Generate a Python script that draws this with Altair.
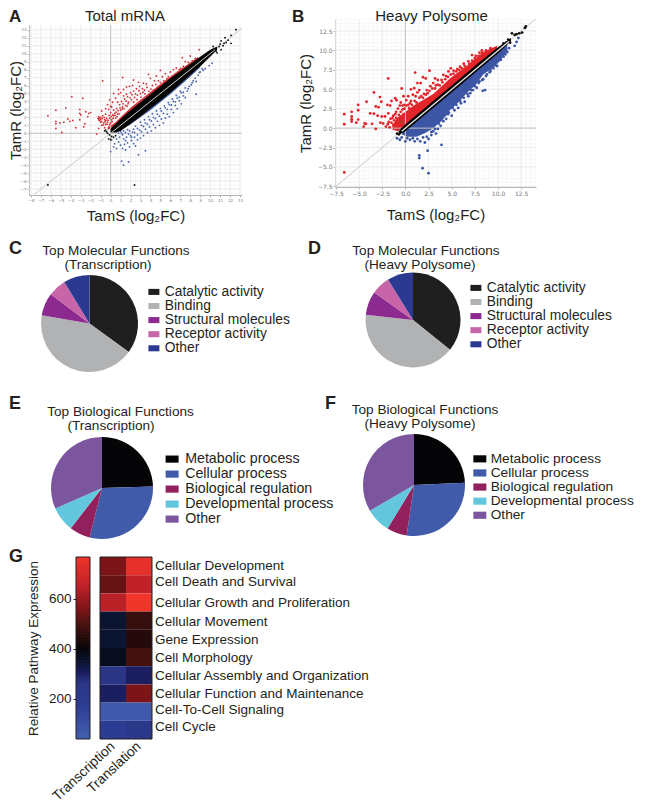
import altair as alt
import pandas as pd

# ---------- scatter A (Total mRNA) ----------
a_red = [(-6.3,2.2),(-5.5,2.9),(-4.5,3.2),(-3.9,4.6),(-2.8,4.4),(-5.5,1.5),(-5.5,1.2),(-5.5,0.6),(-5.1,1.3),(-4.7,1.4),
 (-4.3,1.8),(-4.1,1.5),(-4.9,0.1),(-3.5,0.7),(-3.8,1.6),(-3.1,3.0),(-3.1,2.5),(-3.0,2.3),(-3.1,1.7),(-2.6,1.2),
 (-2.7,0.8),(-2.5,2.7),(-2.2,2.5),(-2.0,2.6),(-2.3,2.1),(-1.4,-0.1),(-1.2,0.6),(-0.8,6.6),(-1.2,2.1),(-1.1,1.9),
 (-1.0,2.0),(-1.1,1.6),(-0.9,1.5),(-0.8,2.2),(-0.9,1.0),(-0.7,1.3),(-0.6,1.7),(-0.5,2.4),(-0.4,1.9),(-0.3,1.4),
 (-0.5,1.1),(-0.2,0.8),(-0.1,1.9),(0.0,1.3),(0.0,2.6),(0.1,3.3),(-0.2,3.0),(-0.3,3.6),(0.2,2.3),(0.3,2.9),
 (0.1,1.7),(0.5,1.9),(0.8,4.9),(1.0,5.1),(1.3,5.5),(1.6,4.9),(0.8,5.5),(0.3,5.0),(-0.1,4.2),(1.6,5.8),
 (1.9,5.9),(1.2,7.0),(2.3,6.7),(3.3,6.3),(3.8,7.4),(4.0,6.9),(4.6,7.2),(5.0,7.9),(6.3,8.0),(6.6,8.2),
 (7.2,9.5),(7.5,9.0),(8.0,9.7),(8.9,10.5),(0.4,2.5),(0.6,3.1),(0.7,2.4),(0.9,3.6),(1.0,2.9),(1.1,4.0),
 (1.2,3.3),(1.4,4.3),(1.5,3.5),(1.7,4.6),(1.8,3.9),(2.0,5.1),(2.1,4.2),(2.3,5.3),(2.4,4.5),(2.6,5.6),
 (2.7,4.8),(2.9,5.9),(3.0,5.0),(3.2,5.6),(3.4,5.4),(3.6,6.2),(4.2,6.0),(4.4,6.6),(4.8,6.6),(5.2,7.1),
 (5.5,7.5),(5.8,7.1),(6.0,7.7),(6.5,7.5),(6.9,8.0),(7.3,8.4),(7.8,8.9),(8.2,9.1),(8.5,9.4),(0.2,3.9),
 (0.5,4.4),(0.7,3.9),(1.3,4.7),(0.0,3.4),(-0.5,3.1),(-0.9,2.8),(-0.6,0.7),(2.2,6.0),(2.8,6.4),
 (-1.25,1.9),(-1.2,1.7),(-1.0,1.4),(-1.0,1.75),(-0.85,1.85),(-0.75,1.05),(-0.65,2.0),(-0.55,1.45),(-0.45,1.65),(-0.35,1.15),
 (-0.25,1.65),(-0.15,2.25),(-0.1,1.1),(0.05,2.1),(0.15,1.45),(0.25,1.9),(0.3,2.2),(0.45,2.25),(0.55,2.65),(0.65,2.1),
 (0.75,2.85),(0.85,2.45),(0.95,3.2),(1.15,3.05),(1.25,3.7),(1.35,3.1),(1.55,4.05),(1.65,3.4),(1.75,3.7),(1.95,4.45),
 (2.15,4.85),(2.3,3.9),(2.5,4.95),(2.65,4.25),(2.85,5.35),(3.05,4.55),(3.25,5.15),(3.45,4.95),(3.65,5.75),(3.85,5.3),
 (4.05,5.55),(4.3,5.4),(4.55,6.15),(4.75,5.85),(5.0,6.4),(5.35,6.6),(5.65,6.85),(6.2,7.2),(6.75,7.7),(7.05,8.15)]
a_blue = [(0.3,-1.7),(0.0,-2.3),(1.1,-3.5),(1.3,-4.0),(1.8,-3.6),(2.8,-2.7),(3.5,-2.2),(5.3,1.3),(7.5,4.5),(8.6,4.9),
 (10.2,8.8),(0.4,-1.3),(0.6,-1.9),(0.8,-1.1),(1.0,-1.5),(1.2,-1.9),(1.4,-1.4),(1.5,-2.1),(1.7,-1.2),(1.9,-1.7),
 (2.1,-0.9),(2.3,-1.3),(2.5,-1.6),(2.7,-0.8),(0.6,-0.7),(0.9,-0.5),(1.3,-0.7),(1.6,-0.5),(2.0,-0.3),(2.4,-0.5),
 (2.7,-0.2),(3.0,-0.6),(3.1,0.2),(3.3,-0.3),(3.5,0.5),(3.7,0.1),(3.9,0.8),(4.1,0.3),(4.3,1.1),(4.5,0.7),
 (4.7,1.5),(4.9,1.0),(5.1,1.8),(5.5,1.9),(5.7,2.4),(5.9,2.1),(6.1,3.0),(6.3,2.6),(6.5,3.5),(6.7,3.1),
 (6.9,4.1),(7.1,3.7),(7.3,4.7),(7.7,5.3),(7.9,5.9),(8.1,6.1),(8.3,6.6),(8.5,6.9),(8.8,7.3),(9.0,7.7),
 (9.3,7.9),(9.5,8.1),(9.9,8.5),(1.1,0.0),(1.5,0.1),(1.9,0.3),(2.3,0.5),(2.7,0.6),(3.1,1.0),(3.5,1.3),
 (3.9,1.7),(4.3,2.0),(4.7,2.4),(5.1,2.8),(5.5,3.2),(5.9,3.6),(6.3,4.0),(6.7,4.4),(7.1,5.1),(0.1,-0.8),
 (0.8,0.0),(1.0,0.25),(1.3,0.3),(1.7,0.45),(1.2,-0.2),(1.8,-0.1),(2.2,0.15),(2.5,0.9),(2.9,0.4),(3.0,1.4),
 (3.3,0.85),(3.4,1.7),(3.7,1.15),(3.8,2.1),(4.1,1.55),(4.2,2.45),(4.5,1.85),(4.6,2.8),(4.9,2.15),(5.0,3.1),
 (5.3,2.5),(5.4,3.45),(5.7,3.0),(5.8,3.85),(6.1,3.55),(6.2,4.3),(6.5,3.95),(6.6,4.75),(6.9,4.55),(7.0,5.3),
 (7.3,5.15),(7.5,5.7),(7.8,5.6),(8.2,6.35),(8.6,6.5),(8.9,7.65),(9.2,8.1),(2.4,0.1),(2.1,-0.5),(1.5,-0.9)]
a_black = [(12.6,13.0),(12.1,12.3),(12.1,11.3),(11.1,10.5),(11.5,12.0),(11.0,11.2),(10.5,10.6),(11.8,11.7),(10.7,10.1),
 (11.3,11.0),(11.6,11.4),(11.1,11.6),(-0.5,0.4),(-0.3,0.0),(-0.1,-0.2),(0.1,-0.4),(0.3,-0.5),(-0.2,-0.7),(0.0,-0.8),
 (0.5,-0.3),(-0.4,0.2),(-0.6,0.3),(-6.3,-6.5),(2.4,-6.5),(10.3,10.9),(10.9,10.9),(11.4,11.3),(10.6,10.3)]
a_band_x   = [0.0, 0.5, 1.0, 2.0, 3.0, 4.0, 5.0, 6.0, 7.0, 8.0, 9.0, 10.0, 10.7]
a_band_hi  = [0.6, 1.2, 1.8, 2.9, 3.9, 4.9, 5.9, 6.9, 7.8, 8.7, 9.6, 10.5, 10.9]
a_band_lo  = [0.1, 0.1, 0.3, 1.2, 2.1, 3.1, 4.1, 5.1, 6.2, 7.3, 8.4, 9.6, 10.5]
a_red_x    = [-0.3, 0.5, 1.0, 2.0, 3.0, 4.0, 5.0, 6.0, 7.0, 8.0, 8.8]
a_red_hi   = [0.7, 1.4, 2.0, 3.2, 4.2, 5.2, 6.2, 7.1, 8.0, 8.9, 9.6]
a_red_lo   = [0.4, 1.0, 1.6, 2.7, 3.7, 4.7, 5.7, 6.7, 7.6, 8.5, 9.3]
a_blue_x   = [0.5, 1.0, 2.0, 3.0, 4.0, 5.0, 6.0, 7.0, 8.0, 9.0]
a_blue_hi  = [0.1, 0.5, 1.4, 2.3, 3.2, 4.2, 5.2, 6.3, 7.4, 8.5]
a_blue_lo  = [0.0, 0.4, 1.1, 2.0, 2.9, 3.9, 4.9, 6.0, 7.1, 8.3]

# ---------- scatter B (Heavy Polysome) ----------
b_red = [(-6.6,1.8),(-6.6,0.5),(-5.8,2.1),(-5.8,1.5),(-5.8,1.15),(-5.8,0.85),(-5.1,3.0),(-5.1,2.3),(-5.1,1.1),(-5.3,0.7),
 (-4.5,0.2),(-4.2,3.4),(-4.4,0.6),(-4.25,0.55),(-3.8,1.9),(-3.4,4.6),(-3.4,1.85),(-3.6,0.55),(-3.2,2.8),(-2.9,2.7),
 (-2.75,4.0),(-2.6,3.4),(-3.0,1.6),(-2.55,1.5),(-3.2,-0.1),(-2.7,0.7),(-1.95,3.0),(-1.85,6.4),(-1.65,2.9),(-1.1,3.85),
 (-1.5,3.5),(-0.95,3.6),(-0.4,5.1),(-0.2,4.1),(-1.85,1.9),(-2.2,1.5),(1.05,7.15),(2.6,7.4),(1.9,6.55),(2.2,6.4),
 (1.3,5.8),(1.65,5.8),(0.95,5.15),(0.6,5.0),(1.5,4.9),(2.3,4.9),(2.0,4.4),(4.1,6.85),(3.9,6.2),(4.9,7.7),
 (4.65,7.3),(5.9,7.9),(7.2,9.4),(7.6,9.3),(8.25,10.0),(9.2,10.3),(-6.6,-5.7),(-2.1,0.2),(-1.9,0.5),(-1.7,0.1),
 (-1.5,0.7),(-1.6,1.2),(-1.3,0.4),(-1.2,1.0),(-1.3,1.6),(-1.0,0.6),(-1.0,1.3),(-1.0,2.1),(-0.8,2.5),(-0.7,1.7),
 (-0.6,2.9),(-0.5,3.3),(-0.3,2.4),(-0.1,3.0),(0.1,3.6),(0.3,3.0),(0.3,4.1),(0.6,3.5),(0.8,4.3),(1.1,4.1),
 (1.3,4.6),(2.7,5.4),(3.0,5.8),(3.3,5.5),(3.5,6.2),(4.4,6.7),(5.2,7.4),(5.6,7.6),(6.3,8.3),(6.8,8.6),
 (8.0,9.7),(3.2,6.4),(-2.4,0.6),(-0.2,1.8),
 (-1.8,0.8),(-1.4,1.3),(-1.1,1.8),(-0.9,0.9),(-0.7,1.2),(-0.5,2.1),(-0.4,1.5),(-0.3,2.9),(-0.1,2.5),(0.1,2.9),
 (0.4,2.6),(0.5,3.2),(0.7,3.0),(1.0,3.5),(1.2,3.3),(1.5,3.9),(1.7,4.1),(1.9,3.9),(2.2,4.3),(2.4,4.5),
 (2.6,4.8),(2.9,5.1),(3.2,5.1),(3.5,5.6),(3.7,5.5),(4.0,5.9),(4.3,6.3),(4.6,6.6),(4.9,6.9),(5.2,7.0),
 (5.5,7.3),(5.8,7.5),(6.1,7.7),(6.4,8.0),(6.9,8.3),(7.2,8.7),(7.5,9.0),(7.9,9.3),(8.3,9.7),(8.7,10.0)]
b_blue = [(3.9,-2.15),(2.4,-2.9),(1.5,-3.5),(1.5,-3.85),(1.85,-5.15),(2.5,-5.8),(-0.9,-1.3),(-0.6,-1.5),(0.0,-1.7),(0.5,-1.5),
 (1.0,-1.7),(1.6,-1.7),(2.1,-1.85),(2.5,-1.4),(3.0,-0.4),(8.6,4.9),(8.35,4.8),(7.5,5.8),(12.0,11.1),(12.2,11.6),
 (11.2,10.3),(10.2,8.9),(-0.4,-1.2),(0.2,-1.3),(0.8,-1.3),(1.3,-1.4),(1.9,-1.2),(2.3,-1.1),(2.8,-0.9),(3.3,-0.7),
 (3.5,-0.1),(3.8,0.3),(4.1,0.9),(4.4,1.2),(4.6,1.8),(5.0,1.6),(5.3,2.3),(5.7,2.6),(6.0,3.2),(6.4,3.4),
 (6.8,4.1),(7.0,4.5),(7.3,4.9),(7.7,5.2),(8.0,6.0),(8.4,6.3),(8.8,6.9),(9.1,7.2),(9.5,7.7),(9.9,8.0),
 (10.6,9.2),(11.0,9.8),(11.8,10.6),
 (2.8,-0.5),(3.2,-0.1),(3.6,0.6),(3.9,1.2),(4.3,1.7),(4.7,2.0),(5.1,2.6),(5.5,3.0),(5.9,3.5),(6.3,3.9),
 (6.7,4.4),(7.1,4.9),(7.5,5.4),(7.9,5.8),(8.3,6.2),(8.7,6.7),(9.2,7.4),(9.7,8.1),(10.3,8.8),(10.8,9.5)]
b_black = [(13.0,13.1),(12.9,12.9),(12.3,12.2),(12.0,12.1),(11.8,12.0),(11.5,12.2),(11.1,11.4),(-0.9,-0.7),(-0.6,-0.5),(-0.7,-0.8),
 (-0.4,-0.2),(11.3,11.0),(10.9,11.0),(10.6,10.9),(12.6,12.3)]
b_band_x  = [-0.6, 0.0, 2.0, 4.0, 6.0, 8.0, 10.0, 11.4]
b_band_hi = [-0.2, 0.5, 2.5, 4.5, 6.5, 8.5, 10.4, 11.6]
b_band_lo = [-0.8, -0.4, 1.6, 3.6, 5.6, 7.6, 9.6, 11.2]
b_red_x   = [-1.4, -0.8, 0.0, 0.9, 2.0, 3.0, 4.0, 4.8, 5.8, 6.6, 7.6, 8.4, 9.9]
b_red_hi  = [0.4, 1.4, 2.1, 2.9, 3.7, 4.4, 5.5, 6.4, 7.3, 8.0, 9.0, 9.8, 10.6]
b_red_lo  = [-0.2, -0.4, 0.3, 1.2, 2.3, 3.3, 4.3, 5.1, 6.1, 6.9, 7.9, 8.7, 10.1]
b_blue_x  = [-0.4, 0.2, 1.2, 2.2, 3.0, 4.0, 4.8, 5.8, 6.6, 7.6, 8.4, 9.4, 10.2, 11.0]
b_blue_hi = [-0.5, 0.0, 1.1, 2.1, 2.9, 3.9, 4.7, 5.7, 6.5, 7.5, 8.3, 9.3, 10.1, 10.9]
b_blue_lo = [-0.8, -1.1, -1.1, -0.6, 0.0, 1.0, 2.3, 3.4, 4.5, 5.6, 6.9, 7.7, 8.6, 10.0]

# ---------- pies ----------
mol_labels = ["Catalytic activity", "Binding", "Structural molecules", "Receptor activity", "Other"]
mol_colors = ["#1f1f20", "#b1b2b4", "#8c2a8f", "#c765a8", "#2b3990"]
c_values = [35.0, 42.7, 7.6, 6.0, 8.7]
d_values = [35.8, 41.0, 8.0, 6.4, 8.8]
bio_labels = ["Metabolic process", "Cellular process", "Biological regulation", "Developmental process", "Other"]
bio_colors = ["#050507", "#3f5ba9", "#92205c", "#62c7dc", "#7b569f"]
e_values = [24.5, 29.4, 6.6, 7.9, 31.6]
f_values = [24.3, 28.0, 6.4, 7.9, 33.4]

# ---------- heatmap ----------
pathways = ["Cellular Development", "Cell Death and Survival", "Cellular Growth and Proliferation", "Cellular Movement",
            "Gene Expression", "Cell Morphology", "Cellular Assembly and Organization",
            "Cellular Function and Maintenance", "Cell-To-Cell Signaling", "Cell Cycle"]
transcription = [555, 530, 640, 345, 345, 370, 260, 300, 60, 170]
translation = [740, 650, 767, 465, 440, 490, 300, 555, 60, 230]
cbar_levels = list(range(40, 767, 6))
cmap_stops = [40, 170, 260, 300, 345, 400, 440, 490, 555, 650, 767]
cmap_colors = ["#4260ae", "#2c3c92", "#2a3585", "#1b1e60", "#0b1430", "#050507", "#240a0a", "#45110f", "#7d1518", "#c02228", "#f0352a"]

W, H = 631, 794
FONT = "Liberation Sans"
one = alt.Data(values=[{"a": 1}])


def pts(items):
    return pd.DataFrame(items, columns=["x", "y"])


def label(txt, px, py, size=13, weight="normal", align="center", angle=0, color="#231f20"):
    return alt.Chart(one).mark_text(text=txt, font=FONT, fontSize=size, fontWeight=weight, align=align,
                                    baseline="middle", angle=angle, color=color).encode(
        x=alt.value(px - 8), y=alt.value(py - 8))


def scatter(L, R, T, B, xd, yd, xt, yt, minor_x, minor_y, fmt, lab, red, blue, black, bands, ps, rcol, bcol, xpad, ypad, white, wcol, ww):
    xs = alt.Scale(domain=xd, range=[L - 8, R - 8], nice=False, zero=False)
    ys = alt.Scale(domain=yd, range=[B - 8, T - 8], nice=False, zero=False)
    X = lambda f="x": alt.X(f + ":Q", scale=xs, axis=None)
    Y = lambda f="y": alt.Y(f + ":Q", scale=ys, axis=None)
    y_top, y_bot = alt.value(T - 8), alt.value(B - 8)
    x_l, x_r = alt.value(L - 8), alt.value(R - 8)

    def vrule(vals, col, sw):
        return alt.Chart(pd.DataFrame({"x": vals})).mark_rule(color=col, strokeWidth=sw).encode(x=X(), y=y_top, y2=y_bot)

    def hrule(vals, col, sw):
        return alt.Chart(pd.DataFrame({"y": vals})).mark_rule(color=col, strokeWidth=sw).encode(y=Y(), x=x_l, x2=x_r)

    common = dict(format=fmt, grid=False, labelFontSize=lab, labelColor="#777777",
                  labelFont="DejaVu Sans", domainColor="#b5b5b5", tickColor="#b5b5b5", tickSize=2, labelPadding=1,
                  titleFontSize=15, titleFont=FONT, titleFontWeight="normal", titleColor="#231f20",
                  labelFlush=False, labelOverlap=False)
    xa = alt.Axis(values=xt, orient="bottom", offset=B - 8 - H, title="TamS (log₂FC)", titlePadding=xpad, **common)
    ya = alt.Axis(values=yt, orient="left", offset=-(L - 8), title="TamR (log₂FC)", titlePadding=ypad, **common)
    diag = [max(xd[0], yd[0]), min(xd[1], yd[1])]
    diag_df = pd.DataFrame({"x": diag, "y": diag})
    axes = alt.Chart(diag_df).mark_line(opacity=0).encode(x=alt.X("x:Q", scale=xs, axis=xa), y=alt.Y("y:Q", scale=ys, axis=ya))
    layers = [vrule(minor_x, "#f3f3f3", 0.6), hrule(minor_y, "#f3f3f3", 0.6), vrule(xt, "#e6e6e6", 0.7), hrule(yt, "#e6e6e6", 0.7)]
    (bx, bh, bl), (rx, rh, rl), (ux, uh, ul) = bands
    layers.append(alt.Chart(pd.DataFrame({"x": rx, "lo": rl, "hi": rh})).mark_area(color=rcol).encode(x=X(), y=Y("lo"), y2="hi:Q"))
    layers.append(alt.Chart(pd.DataFrame({"x": ux, "lo": ul, "hi": uh})).mark_area(color=bcol).encode(x=X(), y=Y("lo"), y2="hi:Q"))
    layers += [vrule([0], "#c4c4c4", 1), hrule([0], "#c4c4c4", 1)]
    layers.append(alt.Chart(diag_df).mark_line(color="#c9c9c9", strokeWidth=1).encode(x=X(), y=Y()))
    layers.append(alt.Chart(pts(red)).mark_circle(color=rcol, size=ps, opacity=1).encode(x=X(), y=Y()))
    layers.append(alt.Chart(pts(blue)).mark_circle(color=bcol, size=ps, opacity=1).encode(x=X(), y=Y()))
    layers.append(alt.Chart(pts(black)).mark_circle(color="#111111", size=ps, opacity=1).encode(x=X(), y=Y()))
    layers.append(alt.Chart(pd.DataFrame({"x": bx, "lo": bl, "hi": bh})).mark_area(color="#050505").encode(x=X(), y=Y("lo"), y2="hi:Q"))
    layers.append(alt.Chart(pd.DataFrame({"x": white, "y": white})).mark_line(color=wcol, strokeWidth=ww).encode(x=X(), y=Y()))
    return [axes, alt.layer(*layers)]


def pie(labels, colors, values, cx, cy, r, lx, ly, lsize, swide, loff):
    df = pd.DataFrame({"c": labels, "v": values, "i": range(len(labels))})
    return alt.Chart(df).mark_arc(outerRadius=r).encode(
        theta=alt.Theta("v:Q", stack=True),
        order=alt.Order("i:Q"),
        color=alt.Color("c:N", scale=alt.Scale(domain=labels, range=colors),
                        legend=alt.Legend(orient="none", legendX=lx - 8, legendY=ly - 8, title=None,
                                          symbolType="M-1,-0.55H1V0.55H-1Z", symbolSize=swide * swide, symbolStrokeWidth=0,
                                          labelFont=FONT, labelFontSize=lsize, labelColor="#231f20", labelOffset=loff,
                                          rowPadding=-0.9, labelLimit=300, symbolOpacity=1)),
        x=alt.value(cx - 8), y=alt.value(cy - 8))


panel_a = scatter(29, 242, 25, 195, [-8.2, 13.2], [-7.75, 13.6], list(range(-8, 14)), list(range(-7, 14)),
                  [v / 2 for v in range(-16, 27)], [v / 2 for v in range(-15, 27)], "d", 4,
                  a_red, a_blue, a_black,
                  ((a_band_x, a_band_hi, a_band_lo), (a_red_x, a_red_hi, a_red_lo), (a_blue_x, a_blue_hi, a_blue_lo)),
                  3.5, "#d4343a", "#4a66ad", 6, -3, [0.1, 10.5], "#cfcfcf", 1)
panel_b = scatter(335, 536, 19, 187, [-7.6, 14.1], [-7.58, 14.05], [-7.5 + 2.5 * i for i in range(9)], [-7.5 + 2.5 * i for i in range(9)],
                  [v / 2 for v in range(-15, 29)], [v / 2 for v in range(-15, 29)], ".1f", 6,
                  b_red, b_blue, b_black,
                  ((b_band_x, b_band_hi, b_band_lo), (b_red_x, b_red_hi, b_red_lo), (b_blue_x, b_blue_hi, b_blue_lo)),
                  8, "#e2242b", "#3c55a5", 11, 4, [-0.4, 11.2], "#e8e8e8", 1.3)

# heatmap
heat_cols = ["Transcription", "Translation"]
heat_df = pd.DataFrame({"pathway": pathways * 2,
                        "col": [heat_cols[0]] * 10 + [heat_cols[1]] * 10,
                        "val": transcription + translation})
cscale = alt.Scale(domain=cmap_stops, range=cmap_colors, interpolate="rgb")
heat = alt.Chart(heat_df).mark_rect().encode(
    x=alt.X("col:N", sort=heat_cols, title=None,
            scale=alt.Scale(domain=heat_cols, range=[100 - 8, 152 - 8], paddingInner=0, paddingOuter=0),
            axis=alt.Axis(orient="bottom", labelAngle=-43, labelFontSize=13.8, labelFont=FONT, labelColor="#231f20", ticks=False, domain=False,
                          offset=739 - 8 - H, labelPadding=5, labelAlign="right", labelBaseline="middle", labelLimit=200, grid=False)),
    y=alt.Y("pathway:N", sort=pathways, title=None,
            scale=alt.Scale(domain=pathways, range=[557 - 8, 739 - 8], paddingInner=0, paddingOuter=0), axis=None),
    color=alt.Color("val:Q", scale=cscale, legend=None))
heat_border = alt.Chart(one).mark_rect(fill=None, stroke="#231f20", strokeWidth=1).encode(
    x=alt.value(100 - 8), x2=alt.value(152 - 8), y=alt.value(557 - 8), y2=alt.value(739 - 8))

label_y_px = [565.7, 581.7, 603, 621.7, 640, 658.3, 676.3, 693.7, 710.3, 727.3]
heat_lab_df = pd.DataFrame({"pathway": pathways, "idx": list(range(10))})
heat_labels = alt.Chart(heat_lab_df).mark_text(font=FONT, fontSize=13.5, align="left", baseline="middle", color="#231f20").encode(
    x=alt.value(155 - 8),
    y=alt.Y("idx:Q", axis=None, scale=alt.Scale(domain=list(range(10)), range=[v - 8 for v in label_y_px], nice=False, zero=False)),
    text="pathway:N")

cbar_df = pd.DataFrame({"lvl": cbar_levels, "top": [v + 9 for v in cbar_levels]})
cbar = alt.Chart(cbar_df).mark_rect().encode(
    x=alt.value(76 - 8), x2=alt.value(90 - 8),
    y=alt.Y("lvl:Q", scale=alt.Scale(domain=[40, 767], range=[739 - 8, 557 - 8], nice=False, zero=False, clamp=True),
            axis=alt.Axis(orient="left", values=[200, 400, 600], labelFont=FONT, labelFontSize=13.5, labelColor="#231f20", tickColor="#231f20",
                          tickSize=3, domain=False, grid=False, offset=-(76 - 8), title="Relative Pathway Expression",
                          titleFont=FONT, titleFontSize=13.5, titleFontWeight="normal", titleColor="#231f20", titlePadding=8)),
    y2="top:Q",
    color=alt.Color("lvl:Q", scale=cscale, legend=None))
cbar_border = alt.Chart(one).mark_rect(fill=None, stroke="#231f20", strokeWidth=1).encode(
    x=alt.value(76 - 8), x2=alt.value(90 - 8), y=alt.value(557 - 8), y2=alt.value(739 - 8))

texts = [
    label("A", 9, 17, 17, "bold", "left"), label("B", 292, 17, 17, "bold", "left"), label("C", 9, 249, 18, "bold", "left"), label("D", 308, 249, 18, "bold", "left"),
    label("E", 9, 404, 18, "bold", "left"), label("F", 325, 404, 18, "bold", "left"), label("G", 9, 557, 18, "bold", "left"),
    label("Total mRNA", 125, 16, 15), label("Heavy Polysome", 431.5, 16, 15),
    label("Top Molecular Functions", 116, 251, 13.6), label("(Transcription)", 108, 264.5, 13.6),
    label("Top Molecular Functions", 426, 251, 13.6), label("(Heavy Polysome)", 420, 264.5, 13.6),
    label("Top Biological Functions", 120.5, 412, 13.6), label("(Transcription)", 111, 426, 13.6),
    label("Top Biological Functions", 425, 410, 13.6), label("(Heavy Polysome)", 420, 423.5, 13.6),
]

chart = alt.layer(
    *panel_a, *panel_b,
    pie(mol_labels, mol_colors, c_values, 89.5, 323.5, 48.5, 147, 285, 13.8, 11, 4),
    pie(mol_labels, mol_colors, d_values, 413, 320, 47.5, 469, 281, 13.8, 11, 4),
    pie(bio_labels, bio_colors, e_values, 102, 488, 51, 165, 452, 14.2, 13, 6),
    pie(bio_labels, bio_colors, f_values, 414, 485, 51, 473, 452, 13.7, 13, 4),
    heat, heat_border, heat_labels, cbar, cbar_border, *texts
).resolve_scale(x="independent", y="independent", theta="independent", color="independent"
).properties(width=W, height=H, padding=0, autosize=alt.AutoSizeParams(type="none")
).configure_view(stroke=None)

chart.save("out.html", embed_options={"renderer": "svg", "actions": False})
